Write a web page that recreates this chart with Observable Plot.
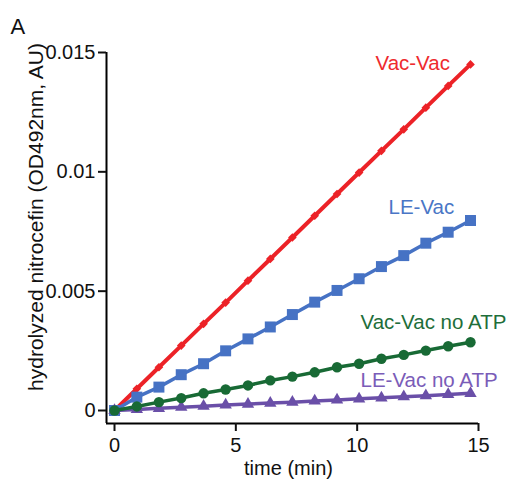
<!DOCTYPE html>
<html>
<head>
<meta charset="utf-8">
<script src="https://cdn.jsdelivr.net/npm/d3@7"></script>
<script src="https://cdn.jsdelivr.net/npm/@observablehq/plot@0.6"></script>
<style>
  html, body { margin: 0; padding: 0; background: #fff; }
  #chart { width: 524px; height: 489px; }
</style>
</head>
<body>
<div id="chart"></div>
<script>
// ---- data ----
const times = [0, 0.92, 1.83, 2.75, 3.67, 4.58, 5.5, 6.42, 7.33, 8.25, 9.17, 10.08, 11, 11.92, 12.83, 13.75, 14.67];
const vacVac = [0, 0.00091, 0.00181, 0.00272, 0.00363, 0.00452, 0.00544, 0.00635, 0.00725, 0.00816, 0.00907, 0.00997, 0.01088, 0.01178, 0.01269, 0.0136, 0.0145];
const leVac = [0, 0.00056, 0.00098, 0.0015, 0.00196, 0.0025, 0.003, 0.0035, 0.00402, 0.00454, 0.00503, 0.00552, 0.00603, 0.00649, 0.00701, 0.00747, 0.00796];
const vacVacNoATP = [0, 0.00017, 0.00035, 0.00052, 0.00072, 0.00088, 0.00105, 0.00126, 0.00142, 0.0016, 0.00181, 0.00196, 0.00217, 0.00233, 0.00251, 0.00269, 0.00286];
const leVacNoATP = [0, 0.00004, 0.00009, 0.00014, 0.00018, 0.00023, 0.00027, 0.00031, 0.00035, 0.0004, 0.00044, 0.00049, 0.00053, 0.00058, 0.00062, 0.00067, 0.00072];
const seriesNames = ["Vac-Vac", "LE-Vac", "Vac-Vac no ATP", "LE-Vac no ATP"];
const xTicks = [0, 5, 10, 15];
const yTicks = [0, 0.005, 0.01, 0.015];
const yTickLabels = ["0", "0.005", "0.01", "0.015"];
const xLabel = "time (min)";
const yLabel = "hydrolyzed nitrocefin (OD492nm, AU)";
const panelLabel = "A";

// ---- styles ----
const seriesValues = [vacVac, leVac, vacVacNoATP, leVacNoATP];
const styles = [
  {color: "#ec2227", text: "#ee2a2e", symbol: "diamond2", r: 3.9, sw: 4,   dx: -95,  dy: -1},
  {color: "#4672c4", text: "#4a76c6", symbol: "square",   r: 6.2, sw: 3.5, dx: -82,  dy: -13},
  {color: "#186a35", text: "#1e6e3a", symbol: "circle",   r: 5.2, sw: 3.5, dx: -110, dy: -20},
  {color: "#6a4fa8", text: "#7a5cb8", symbol: "triangle", r: 4.6, sw: 3.5, dx: -110, dy: -13}
];
const drawOrder = [0, 1, 3, 2];

const table = [];
seriesNames.forEach((name, s) => {
  times.forEach((t, i) => table.push({series: name, s, t, v: seriesValues[s][i]}));
});

const xDomain = [-0.33, 15];
const yDomain = [-0.000545, 0.015];
const font = "'Liberation Sans', Arial, Helvetica, sans-serif";

const marks = [
  Plot.ruleY([yDomain[0]], {stroke: "#000", strokeWidth: 2}),
  Plot.ruleX([xDomain[0]], {stroke: "#000", strokeWidth: 2}),
  Plot.axisX({ticks: xTicks, tickSize: 8, tickPadding: 6, label: null, fontSize: 20, strokeWidth: 2, fill: "#111"}),
  Plot.axisY({ticks: yTicks, tickFormat: d => yTickLabels[yTicks.indexOf(d)], tickSize: 8, tickPadding: 3, label: null, fontSize: 20, strokeWidth: 2, fill: "#111"})
];

drawOrder.forEach(s => {
  const rows = table.filter(d => d.s === s);
  const st = styles[s];
  marks.push(Plot.line(rows, {x: "t", y: "v", stroke: st.color, strokeWidth: st.sw}));
  marks.push(Plot.dot(rows, {x: "t", y: "v", fill: st.color, stroke: "none", symbol: () => st.symbol, r: st.r}));
});

seriesNames.forEach((name, s) => {
  const st = styles[s];
  const last = table.filter(d => d.s === s).slice(-1);
  marks.push(Plot.text(last, {x: "t", y: "v", text: d => d.series, fill: st.text, textAnchor: "start", lineAnchor: "middle", dx: st.dx, dy: st.dy, fontSize: 20.5}));
});

marks.push(Plot.text([xLabel], {frameAnchor: "bottom", text: d => d, textAnchor: "middle", dx: -4, dy: 45, lineAnchor: "middle", fontSize: 20, fill: "#111"}));
marks.push(Plot.text([yLabel], {frameAnchor: "left", text: d => d, rotate: -90, textAnchor: "middle", dx: -70, dy: -21, lineAnchor: "middle", fontSize: 21, fill: "#111"}));
marks.push(Plot.text([panelLabel], {frameAnchor: "top-left", text: d => d, textAnchor: "start", lineAnchor: "bottom", dx: -96, dy: -19, fontSize: 22, fill: "#111"}));

const chart = Plot.plot({
  width: 524,
  height: 489,
  marginLeft: 106,
  marginRight: 46,
  marginTop: 52,
  marginBottom: 66,
  x: {domain: xDomain},
  y: {domain: yDomain},
  symbol: {type: "identity"},
  style: {fontFamily: font, fontSize: "20px", background: "#fff", color: "#111", overflow: "visible"},
  marks
});
document.getElementById("chart").appendChild(chart);
</script>
</body>
</html>
